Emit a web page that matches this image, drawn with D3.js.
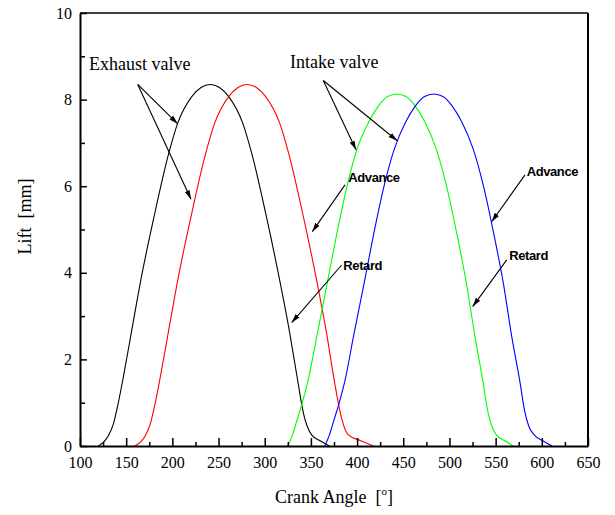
<!DOCTYPE html>
<html>
<head>
<meta charset="utf-8">
<script src="https://cdn.jsdelivr.net/npm/d3@7"></script>
<style>
  html, body { margin: 0; padding: 0; background: #fff; }
  svg { display: block; }
  text { white-space: pre; }
  .serif { font-family: "Liberation Serif", "Times New Roman", serif; }
  .sans { font-family: "Liberation Sans", Arial, sans-serif; font-weight: bold; }
</style>
</head>
<body>
<svg id="chart" width="615" height="515"></svg>
<script>
// Valve lift curves: [crank angle (deg), lift (mm)]
const exhaustRetard = [
  [120, 0], [126, 0.1], [131, 0.25], [136, 0.5], [141, 0.95], [147, 1.6], [155, 2.55],
  [166, 3.85], [179.4, 5.22], [196, 6.75], [205.7, 7.45], [221, 8.07], [231, 8.28],
  [241, 8.35], [251, 8.28], [261, 8.07], [276.3, 7.45], [286, 6.75], [302.6, 5.22],
  [316, 3.85], [327, 2.62], [335, 1.6], [342, 0.75], [351, 0.25], [360, 0.12], [370, 0]
];
const exhaustAdvance = [
  [159, 0], [166, 0.1], [171, 0.25], [176, 0.5], [181, 0.95], [187, 1.6], [195, 2.55],
  [206, 3.85], [219.4, 5.22], [236, 6.75], [245.7, 7.45], [261, 8.07], [271, 8.28],
  [281, 8.35], [291, 8.28], [301, 8.07], [316.3, 7.45], [326, 6.75], [342.6, 5.22],
  [356, 3.85], [367, 2.6], [375, 1.55], [382, 0.75], [390, 0.27], [404, 0.12], [418, 0]
];
const intakeRetard = [
  [325, 0], [330, 0.25], [335, 0.6], [340, 0.95], [347, 1.52], [356.3, 2.52], [368, 3.8],
  [378, 4.9], [388, 5.9], [399.6, 6.84], [413, 7.5], [423, 7.85], [433, 8.07],
  [443, 8.13], [453, 8.07], [463, 7.85], [473, 7.5], [486, 6.84], [498, 5.9],
  [508, 4.9], [518, 3.8], [527.7, 2.52], [536, 1.52], [541.5, 0.8], [546, 0.45],
  [551, 0.25], [560, 0.12], [569, 0]
];
const intakeAdvance = [
  [365, 0], [370, 0.25], [375, 0.6], [380, 0.95], [387, 1.52], [396, 2.52], [408, 3.8],
  [418, 4.9], [428, 5.9], [440, 6.84], [453, 7.5], [463, 7.85], [473, 8.07],
  [483, 8.13], [493, 8.07], [503, 7.85], [513, 7.5], [526, 6.84], [538, 5.9],
  [548, 4.9], [558, 3.8], [567.5, 2.52], [576, 1.52], [581.5, 0.8], [586, 0.45],
  [592, 0.25], [601, 0.12], [611, 0]
];

const curveColors = ["#000000", "#ff0000", "#00ff00", "#0000ff"];

// Axis ticks
const xMajorTicks = [100, 150, 200, 250, 300, 350, 400, 450, 500, 550, 600, 650];
const xMinorTicks = [125, 175, 225, 275, 325, 375, 425, 475, 525, 575, 625];
const yMajorTicks = [0, 2, 4, 6, 8, 10];
const yMinorTicks = [1, 3, 5, 7, 9];

// Annotation text: [label, angle, lift]
const valveLabels = [["Exhaust valve", 109.7, 8.68], ["Intake valve", 327.4, 8.73]];
const phaseLabels = [
  ["Advance", 390.5, 6.1], ["Retard", 385.1, 4.06],
  ["Advance", 583.6, 6.24], ["Retard", 564.8, 4.3]
];
// Pointer arrows: [fromAngle, fromLift, toAngle, toLift]
const pointers = [
  [162.5, 8.35, 205.8, 7.44], [162.5, 8.35, 220.2, 5.70],
  [363.4, 8.44, 398.8, 6.84], [363.4, 8.44, 443.5, 7.05],
  [386.9, 6.03, 351.5, 4.95], [383.3, 4.18, 329.2, 2.85],
  [581.8, 6.26, 545.7, 5.18], [562.0, 4.30, 525.2, 3.22]
];

const margin = { left: 80, top: 13, right: 27, bottom: 69 };
const W = 615, H = 515;
const iw = W - margin.left - margin.right;
const ih = H - margin.top - margin.bottom;

const svg = d3.select("#chart");
const defs = svg.append("defs");
defs.append("marker")
  .attr("id", "head")
  .attr("markerUnits", "userSpaceOnUse")
  .attr("markerWidth", 10).attr("markerHeight", 8)
  .attr("viewBox", "0 -4 10 8")
  .attr("refX", 9).attr("refY", 0)
  .attr("orient", "auto")
  .append("path").attr("d", "M0,-2.6L9,0L0,2.6Z").attr("fill", "#000");

const g = svg.append("g").attr("transform", `translate(${margin.left},${margin.top})`);

const x = d3.scaleLinear().domain([100, 650]).range([0, iw]);
const y = d3.scaleLinear().domain([0, 10]).range([ih, 0]);

// Frame (top and right)
g.append("line").attr("x1", 0).attr("x2", iw).attr("y1", 0).attr("y2", 0)
  .attr("stroke", "#000").attr("stroke-width", 1.6);
g.append("line").attr("x1", iw).attr("x2", iw).attr("y1", 0).attr("y2", ih)
  .attr("stroke", "#000").attr("stroke-width", 2);

// Curves
const line = d3.line().x(d => x(d[0])).y(d => y(d[1])).curve(d3.curveMonotoneX);
[exhaustRetard, exhaustAdvance, intakeRetard, intakeAdvance].forEach((data, i) => {
  g.append("path").datum(data)
    .attr("d", line)
    .attr("fill", "none")
    .attr("stroke", curveColors[i])
    .attr("stroke-width", 1.1);
});

// Axes
function styleAxis(sel) {
  sel.select(".domain").attr("stroke", "#000").attr("stroke-width", 2);
  sel.selectAll(".tick line").attr("stroke", "#000").attr("stroke-width", 1.5);
  sel.selectAll(".tick text")
    .attr("class", "serif").attr("font-size", 16).attr("fill", "#000");
}
g.append("g").attr("transform", `translate(0,${ih})`)
  .call(d3.axisBottom(x).tickValues(xMinorTicks).tickSize(-4).tickSizeOuter(0).tickFormat(""))
  .call(styleAxis);
g.append("g").attr("transform", `translate(0,${ih})`)
  .call(d3.axisBottom(x).tickValues(xMajorTicks).tickSize(-8).tickSizeOuter(0).tickPadding(11).tickFormat(d3.format("d")))
  .call(styleAxis)
  .call(s => s.select(".domain").remove());
g.append("g")
  .call(d3.axisLeft(y).tickValues(yMinorTicks).tickSize(-5).tickSizeOuter(0).tickFormat(""))
  .call(styleAxis);
g.append("g")
  .call(d3.axisLeft(y).tickValues(yMajorTicks).tickSize(-7).tickSizeOuter(0).tickPadding(8).tickFormat(d3.format("d")))
  .call(styleAxis)
  .call(s => s.select(".domain").remove());

// Axis titles
const xt = svg.append("text").attr("class", "serif")
  .attr("x", margin.left + x(375)).attr("y", 503)
  .attr("text-anchor", "middle").attr("font-size", 18).attr("fill", "#000");
xt.append("tspan").text("Crank Angle  [");
xt.append("tspan").attr("font-size", 11).attr("dy", -8).text("o");
xt.append("tspan").attr("dy", 8).text("]");

svg.append("text").attr("class", "serif")
  .attr("transform", `translate(31,${margin.top + y(5.3)}) rotate(-90)`)
  .attr("text-anchor", "middle").attr("font-size", 18).attr("fill", "#000")
  .text("Lift  [mm]");

// Annotations
g.selectAll(".ptr").data(pointers).enter().append("line")
  .attr("x1", d => x(d[0])).attr("y1", d => y(d[1]))
  .attr("x2", d => x(d[2])).attr("y2", d => y(d[3]))
  .attr("stroke", "#000").attr("stroke-width", 1.1)
  .attr("marker-end", "url(#head)");

g.selectAll(".vlab").data(valveLabels).enter().append("text")
  .attr("class", "serif").attr("font-size", 18).attr("fill", "#000")
  .attr("x", d => x(d[1])).attr("y", d => y(d[2]))
  .text(d => d[0]);

g.selectAll(".plab").data(phaseLabels).enter().append("text")
  .attr("class", "sans").attr("font-size", 13).attr("fill", "#000")
  .attr("letter-spacing", -0.4)
  .attr("x", d => x(d[1])).attr("y", d => y(d[2]))
  .text(d => d[0]);
</script>
</body>
</html>
